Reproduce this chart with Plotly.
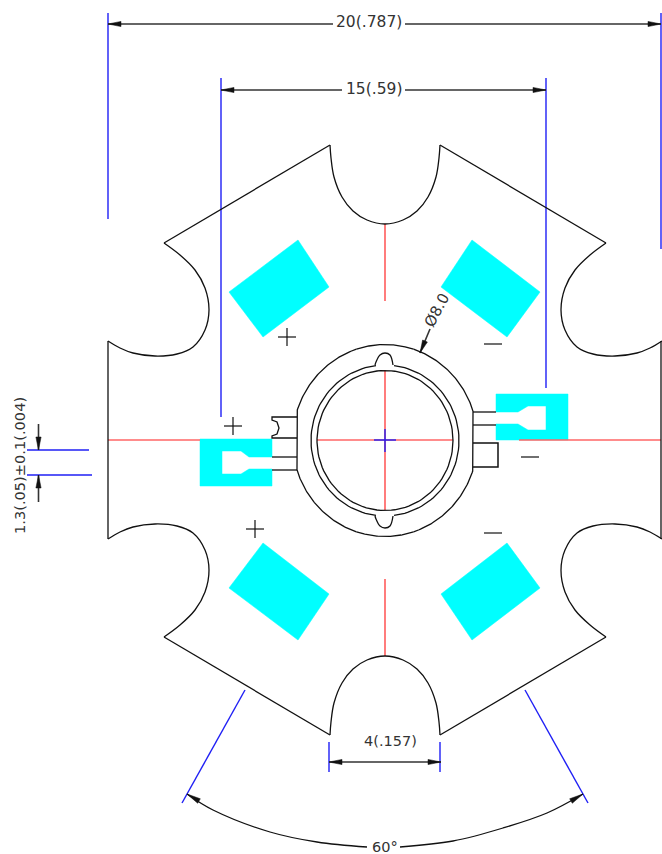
import numpy as np
import plotly.graph_objects as go

BLACK = "#111111"
BLUE = "#1f1ff5"
RED = "#ff6666"
CYAN = "#00ffff"
DIM = "#333333"

# Board outline (left half notch curves, clockwise from upper-left)
top_notch_x = [330, 331, 334, 342, 353, 367, 385, 403, 417, 428, 436, 439, 440]
top_notch_y = [145, 158, 177, 197, 211, 220, 224, 220, 211, 197, 177, 158, 145]
left_notch_x = [164, 180, 195, 205, 209, 205, 193, 177, 155, 133, 120, 108]
left_notch_y = [243, 255, 270, 288, 310, 330, 347, 354, 356, 353, 348, 341]

# Copper pads
pad_ul_x = [298, 329, 263, 229, 298]
pad_ul_y = [240, 287, 337, 292, 240]
pad_ur_x = [472, 540, 507, 441, 472]
pad_ur_y = [240, 292, 337, 287, 240]
pad_ll_x = [229, 263, 329, 298, 229]
pad_ll_y = [588, 543, 594, 640, 588]
pad_lr_x = [441, 507, 540, 472, 441]
pad_lr_y = [594, 543, 588, 640, 594]
lead_l_x = [200, 272, 272, 249, 241, 222, 222, 241, 249, 272, 272, 200, 200]
lead_l_y = [439, 439, 457, 457, 451, 451, 474, 474, 469, 469, 486, 486, 439]
lead_r_x = [496, 568, 568, 496, 496, 518, 528, 546, 546, 528, 518, 496, 496]
lead_r_y = [394, 394, 440, 440, 424, 424, 430, 430, 406, 406, 412, 412, 394]

# Lead and tab lines
tab_x = [297, 272, 272, 277, 279, 277, 272, 272, 297]
tab_y = [417, 417, 420, 422, 428, 434, 436, 438, 438]
square_x = [473, 498, 498, 473]
square_y = [443, 443, 467, 467]
bump_top_x = [375, 376, 380, 385, 390, 393]
bump_top_y = [365, 362, 355, 353, 355, 365]
bump_bot_y = [516, 519, 526, 528, 526, 516]

# Ring geometry (centre, radii)
cx, cy = 385, 440.5
inner_rx, inner_ry = 68, 70
mid_rx, mid_ry = 74, 75.5
outer_rx, outer_ry = 92.5, 96
flat_x = 88

# Extension lines: (x0, y0, x1, y1)
blue_lines = [
    (108, 13, 108, 219), (661, 13, 661, 249), (221, 78, 221, 417), (546, 78, 546, 388),
    (27, 450, 89, 450), (27, 475, 92, 475), (329, 742, 329, 772), (440, 742, 440, 772),
    (245, 690, 182, 803), (525, 690, 588, 803),
    (374, 440, 396, 440), (385, 429, 385, 452),
]
red_lines = [
    (385, 224, 385, 301), (385, 370, 385, 510), (385, 579, 385, 656),
    (108, 440, 200, 440), (317, 440, 453, 440), (519, 440, 661, 440),
]
dim_lines = [
    (108, 24, 333, 24), (405, 24, 661, 24), (221, 90, 342, 90), (405, 90, 546, 90),
    (329, 762, 441, 762), (38.5, 424, 38.5, 450), (38.5, 475, 38.5, 502), (420, 353, 430, 329),
]
marks = [
    (278, 337, 296, 337), (287, 328, 287, 346), (224, 426, 242, 426), (233, 417, 233, 435),
    (246, 529, 264, 529), (255, 520, 255, 538), (484, 344, 502, 344), (521, 457, 539, 457),
    (484, 533, 502, 533),
]
# Dimension arc segments
arc_l_x = [187, 213, 270, 317, 367]
arc_l_y = [794, 810, 832, 842, 847]
arc_r_x = [400, 453, 503, 547, 583]
arc_r_y = [847, 841, 828, 813, 794]

# Arrowheads: tip and tail centre
arrows = [
    (108, 24, 121, 24), (661, 24, 648, 24), (221, 90, 234, 90), (546, 90, 533, 90),
    (329, 762, 342, 762), (441, 762, 428, 762), (38.5, 450, 38.5, 437), (38.5, 475, 38.5, 488),
    (187, 794, 199, 801), (583, 794, 571, 801), (420, 353, 425, 341),
]
# Labels: text, x, y, angle, size
labels = [
    ("20(.787)", 368.5, 21.5, 0, 15.5), ("15(.59)", 374, 89, 0, 15.5), ("4(.157)", 390, 741, 0, 14.5),
    ("60°", 385, 847, 0, 14.5), ("1.3(.05)±0.1(.004)", 19, 466, -90, 14.6), ("Ø8.0", 437, 310, -62, 15),
]


def ellipse_arc(rx, ry, a0, a1, n=60):
    t = np.radians(np.linspace(a0, a1, n))
    return cx + rx * np.cos(t), cy + ry * np.sin(t)


def segs(items):
    xs, ys = [], []
    for x0, y0, x1, y1 in items:
        xs += [x0, x1, None]
        ys += [y0, y1, None]
    return xs, ys


fig = go.Figure()


def line(x, y, color=BLACK, width=1.3, shape="linear"):
    fig.add_trace(go.Scatter(x=x, y=y, mode="lines", hoverinfo="skip",
                             line=dict(color=color, width=width, shape=shape)))


def fill(x, y, color):
    fig.add_trace(go.Scatter(x=x, y=y, mode="lines", fill="toself", fillcolor=color,
                             hoverinfo="skip", line=dict(color=color, width=0.5)))


for px, py in [(pad_ul_x, pad_ul_y), (pad_ur_x, pad_ur_y), (pad_ll_x, pad_ll_y),
               (pad_lr_x, pad_lr_y), (lead_l_x, lead_l_y), (lead_r_x, lead_r_y)]:
    fill(px, py, CYAN)

line(*segs(red_lines), color=RED, width=1.7)
line(*segs(blue_lines), color=BLUE, width=1.4)
line(*segs(dim_lines), color=DIM, width=1.6)
line(*segs(marks), color=BLACK, width=1.2)

# Board outline, mirrored about the drawing's centre lines
lx = np.array(left_notch_x, float)
ly = np.array(left_notch_y, float)
tx = np.array(top_notch_x, float)
ty = np.array(top_notch_y, float)
mid_y = 440
line(list(tx), list(ty), shape="spline")
line(list(tx), list(2 * mid_y - ty), shape="spline")
line(list(lx), list(ly), shape="spline")
line(list(lx), list(2 * mid_y - ly), shape="spline")
line(list(2 * cx - lx), list(ly), shape="spline")
line(list(2 * cx - lx), list(2 * mid_y - ly), shape="spline")
line(*segs([
    (330, 145, 164, 243), (440, 145, 606, 243), (330, 735, 164, 637), (440, 735, 606, 637),
    (108, 341, 108, 539), (661, 341, 661, 539),
]))

# Rings
line(*ellipse_arc(inner_rx, inner_ry, 0, 360, 120))
x1, y1 = ellipse_arc(mid_rx, mid_ry, -83, 83)
line(x1, y1)
x2, y2 = ellipse_arc(mid_rx, mid_ry, 97, 263)
line(x2, y2)
line(bump_top_x, bump_top_y, shape="spline")
line(bump_top_x, bump_bot_y, shape="spline")
for a0, a1 in [(-72, 72), (108, 252)]:
    xa, ya = ellipse_arc(outer_rx, outer_ry, a0, a1, 160)
    xa = np.clip(xa, cx - flat_x, cx + flat_x)
    line(xa, ya)
xa, ya = ellipse_arc(outer_rx, outer_ry, -108, -72)
line(xa, ya)
xa, ya = ellipse_arc(outer_rx, outer_ry, 72, 108)
line(xa, ya)

# Leads
line(tab_x, tab_y)
line(square_x, square_y, width=1.5)
line(*segs([(272, 457, 297, 457), (272, 470, 297, 470), (473, 412, 496, 412), (473, 425, 496, 425)]))

# Dimension arcs
line(arc_l_x, arc_l_y, shape="spline")
line(arc_r_x, arc_r_y, shape="spline")

# Arrowheads
for x0, y0, x1, y1 in arrows:
    dx, dy = x1 - x0, y1 - y0
    n = (dx * dx + dy * dy) ** 0.5
    ox, oy = -dy / n * 2.6, dx / n * 2.6
    fill([x0, x1 + ox, x1 - ox, x0], [y0, y1 + oy, y1 - oy, y0], BLACK)

for text, x, y, angle, size in labels:
    fig.add_annotation(x=x, y=y, text=text, textangle=angle, showarrow=False,
                       xref="x", yref="y", xanchor="center", yanchor="middle",
                       font=dict(family="DejaVu Sans ExtraLight, DejaVu Sans", size=size, color=DIM))

fig.update_layout(
    width=662, height=854, showlegend=False,
    margin=dict(l=0, r=0, t=0, b=0),
    paper_bgcolor="white", plot_bgcolor="white",
    xaxis=dict(range=[0, 662], visible=False, fixedrange=True),
    yaxis=dict(range=[854, 0], visible=False, fixedrange=True),
)
fig.write_html("out.html", config=dict(displayModeBar=False),
               post_script="document.body.style.margin='0';document.documentElement.style.overflow='hidden';")
